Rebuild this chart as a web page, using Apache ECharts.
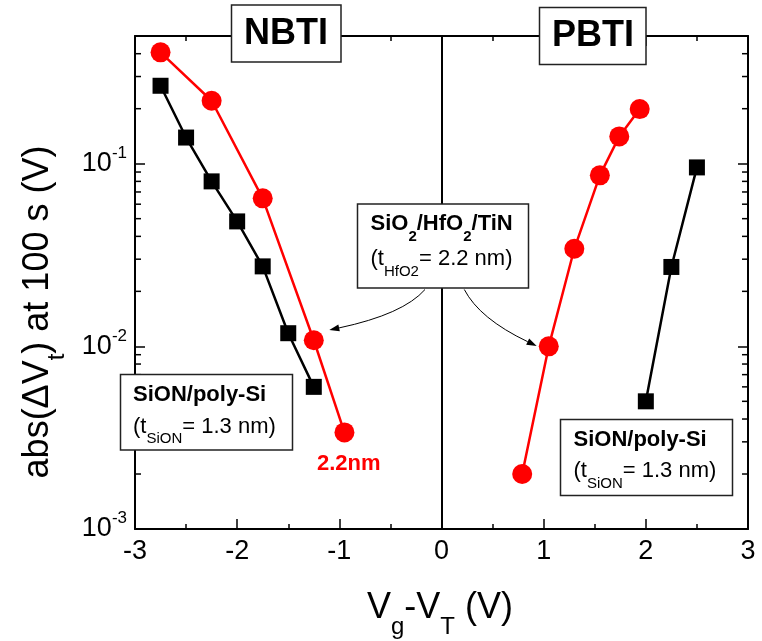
<!DOCTYPE html>
<html><head><meta charset="utf-8">
<script src="https://cdn.jsdelivr.net/npm/echarts@6/dist/echarts.min.js"></script>
<style>html,body{margin:0;padding:0;background:#fff}#c{width:762px;height:641px}</style>
</head><body><div id="c"></div>
<script>
// ---- data ----
const nbtiSionX = [-2.75, -2.5, -2.25, -2.0, -1.75, -1.5, -1.25];
const nbtiSionY = [0.267, 0.139, 0.080, 0.0483, 0.0274, 0.0118, 0.0060];
const nbtiHfX = [-2.75, -2.25, -1.75, -1.25, -0.95];
const nbtiHfY = [0.407, 0.221, 0.0646, 0.0108, 0.00338];
const pbtiHfX = [0.79, 1.05, 1.3, 1.55, 1.74, 1.94];
const pbtiHfY = [0.0020, 0.0100, 0.0342, 0.0863, 0.141, 0.199];
const pbtiSionX = [2.0, 2.25, 2.5];
const pbtiSionY = [0.0050, 0.0272, 0.0954];
const yMajorTicks = [0.001, 0.01, 0.1];
const yMinorTicks = [0.002,0.003,0.004,0.005,0.006,0.007,0.008,0.009,
                     0.02,0.03,0.04,0.05,0.06,0.07,0.08,0.09,0.2,0.3,0.4];
const yMin = 0.001, yMax = 0.5;

const FONT = '"Liberation Sans", Arial, Helvetica, sans-serif';
const chart = echarts.init(document.getElementById('c'), null, {renderer: 'canvas'});
const pairs = (xs, ys) => xs.map((x, i) => [x, ys[i]]);

const axisLine = {show: true, onZero: false, lineStyle: {color: '#000', width: 2}};
const xBase = {
  type: 'value', min: -3, max: 3, interval: 1, gridIndex: 0,
  splitLine: {show: false}, axisLine: axisLine,
  axisTick: {show: true, inside: true, length: 10, lineStyle: {color: '#000', width: 1.5}},
  minorTick: {show: true, splitNumber: 2, length: 5, lineStyle: {color: '#000', width: 1.5}},
  minorSplitLine: {show: false}
};
const yBase = {
  type: 'log', logBase: 10, min: yMin, max: yMax, gridIndex: 0,
  splitLine: {show: false}, minorTick: {show: false}, axisLine: axisLine,
  axisTick: {show: true, inside: true, length: 10, lineStyle: {color: '#000', width: 1.5}}
};
const yLabel = {
  show: true, margin: 8,
  formatter: v => {
    const e = Math.log10(v);
    if (Math.abs(e - Math.round(e)) > 1e-6) return '';
    return '{b|10}{s|' + Math.round(e) + '}';
  },
  rich: {
    b: {fontSize: 27, fontFamily: FONT, color: '#000'},
    s: {fontSize: 17, fontFamily: FONT, color: '#000', verticalAlign: 'top', lineHeight: 38}
  }
};

function box(x, y, w, h) {
  return {type: 'rect', shape: {x: x, y: y, width: w, height: h},
          style: {fill: '#fff', stroke: '#222', lineWidth: 1.5}, z: 100};
}
const boxRich = {
  b: {fontSize: 22, fontWeight: 'bold', fontFamily: FONT, fill: '#000'},
  bs: {fontSize: 15, fontWeight: 'bold', fontFamily: FONT, fill: '#000', verticalAlign: 'bottom', lineHeight: 40},
  r: {fontSize: 22, fontFamily: FONT, fill: '#000'},
  rs: {fontSize: 15, fontFamily: FONT, fill: '#000', verticalAlign: 'bottom', lineHeight: 40}
};
function txt(x, y, text, rich) {
  return {type: 'text', x: x, y: y, z: 101,
    style: {text: text, rich: rich, align: 'left', verticalAlign: 'middle', fontFamily: FONT}};
}
function title(x, y, text) {
  return {type: 'text', x: x, y: y, z: 101,
    style: {text: text, font: 'bold 36px ' + FONT, fill: '#000', align: 'center', verticalAlign: 'middle'}};
}
function arrow(x1, y1, cx, cy, x2, y2) {
  const dx = x2 - cx, dy = y2 - cy, L = Math.hypot(dx, dy);
  const ux = dx / L, uy = dy / L, len = 10, hw = 3.5;
  const bx = x2 - ux * len, by = y2 - uy * len;
  return [
    {type: 'bezierCurve', shape: {x1: x1, y1: y1, x2: bx, y2: by, cpx1: cx, cpy1: cy},
     style: {stroke: '#000', lineWidth: 1, fill: null}, z: 99},
    {type: 'polygon', shape: {points: [[x2, y2], [bx - uy * hw, by + ux * hw], [bx + uy * hw, by - ux * hw]]},
     style: {fill: '#000'}, z: 99}
  ];
}

const graphics = [
  box(231.5, 5, 109.5, 57), title(286, 34, 'NBTI'),
  box(539.5, 7.5, 106.5, 57), title(593, 36, 'PBTI'),
  box(357.5, 204, 171, 84),
  txt(370.5, 224, '{b|SiO}{bs|2}{b|/HfO}{bs|2}{b|/TiN}', boxRich),
  txt(370.5, 259, '{r|(t}{rs|HfO2}{r|= 2.2 nm)}', boxRich),
  box(120.5, 374.5, 172, 75.5),
  txt(133, 395, '{b|SiON/poly-Si}', boxRich),
  txt(133, 426.5, '{r|(t}{rs|SiON}{r|= 1.3 nm)}', boxRich),
  box(560.5, 419.5, 172, 76),
  txt(573.5, 440, '{b|SiON/poly-Si}', boxRich),
  txt(573.5, 471, '{r|(t}{rs|SiON}{r|= 1.3 nm)}', boxRich),
  {type: 'text', x: 317, y: 463.5, z: 101,
   style: {text: '2.2nm', font: 'bold 22px ' + FONT, fill: '#ff0000', align: 'left', verticalAlign: 'middle'}},
  // axis titles
  {type: 'text', x: 440, y: 608, z: 101,
   style: {text: '{m|V}{s|g}{m|-V}{s|T}{m| (V)}', align: 'center', verticalAlign: 'middle',
     rich: {m: {fontSize: 36, fontFamily: FONT, fill: '#000'},
            s: {fontSize: 24, fontFamily: FONT, fill: '#000', verticalAlign: 'bottom', lineHeight: 62}}}},
  {type: 'text', x: 38, y: 312, rotation: Math.PI / 2, z: 101,
   style: {text: '{m|abs(\u0394V}{s|t}{m|) at 100 s (V)}', align: 'center', verticalAlign: 'middle',
     rich: {m: {fontSize: 36, fontFamily: FONT, fill: '#000'},
            s: {fontSize: 24, fontFamily: FONT, fill: '#000', verticalAlign: 'bottom', lineHeight: 62}}}}
].concat(arrow(425, 289.5, 403.4, 314.2, 329.3, 330))
 .concat(arrow(464.3, 289.5, 479.5, 318.7, 536.7, 346));

function lineSeries(name, xs, ys, color, symbol, size) {
  return {type: 'line', name: name, data: pairs(xs, ys), xAxisIndex: 0, yAxisIndex: 0,
    symbol: symbol, symbolSize: size, showSymbol: true,
    lineStyle: {color: color, width: 2.5}, itemStyle: {color: color, opacity: 1}, z: 5};
}

const s0 = lineSeries('NBTI SiON/poly-Si', nbtiSionX, nbtiSionY, '#000', 'rect', 16);
s0.markLine = {silent: true, symbol: ['none', 'none'], label: {show: false},
  lineStyle: {color: '#000', width: 2, type: 'solid'}, data: [{xAxis: 0}], animation: false};

// minor log ticks on left and right y axes, placed through the y scale
const minorTickSeries = {
  type: 'custom', name: 'minor ticks', silent: true, clip: false, z: 4,
  xAxisIndex: 0, yAxisIndex: 0,
  data: yMinorTicks.map(v => [-3, v]),
  encode: {x: 0, y: 1},
  renderItem: function (params, api) {
    const cs = params.coordSys;
    const y = api.coord([api.value(0), api.value(1)])[1];
    const st = {stroke: '#000', lineWidth: 1.5};
    return {type: 'group', children: [
      {type: 'line', shape: {x1: cs.x, y1: y, x2: cs.x + 6, y2: y}, style: st},
      {type: 'line', shape: {x1: cs.x + cs.width - 6, y1: y, x2: cs.x + cs.width, y2: y}, style: st}
    ]};
  }
};

chart.setOption({
  animation: false,
  backgroundColor: '#fff',
  grid: {left: 135, right: 14, top: 36, bottom: 112, containLabel: false},
  xAxis: [
    Object.assign({}, xBase, {position: 'bottom',
      axisLabel: {show: true, fontSize: 27, fontFamily: FONT, color: '#000', margin: 9}}),
    Object.assign({}, xBase, {position: 'top', axisLabel: {show: false}})
  ],
  yAxis: [
    Object.assign({}, yBase, {position: 'left', axisLabel: yLabel}),
    Object.assign({}, yBase, {position: 'right', axisLabel: {show: false}})
  ],
  series: [
    minorTickSeries,
    s0,
    lineSeries('NBTI SiO2/HfO2/TiN', nbtiHfX, nbtiHfY, '#ff0000', 'circle', 20),
    lineSeries('PBTI SiO2/HfO2/TiN', pbtiHfX, pbtiHfY, '#ff0000', 'circle', 20),
    lineSeries('PBTI SiON/poly-Si', pbtiSionX, pbtiSionY, '#000', 'rect', 16)
  ],
  graphic: {elements: graphics}
});
</script></body></html>
